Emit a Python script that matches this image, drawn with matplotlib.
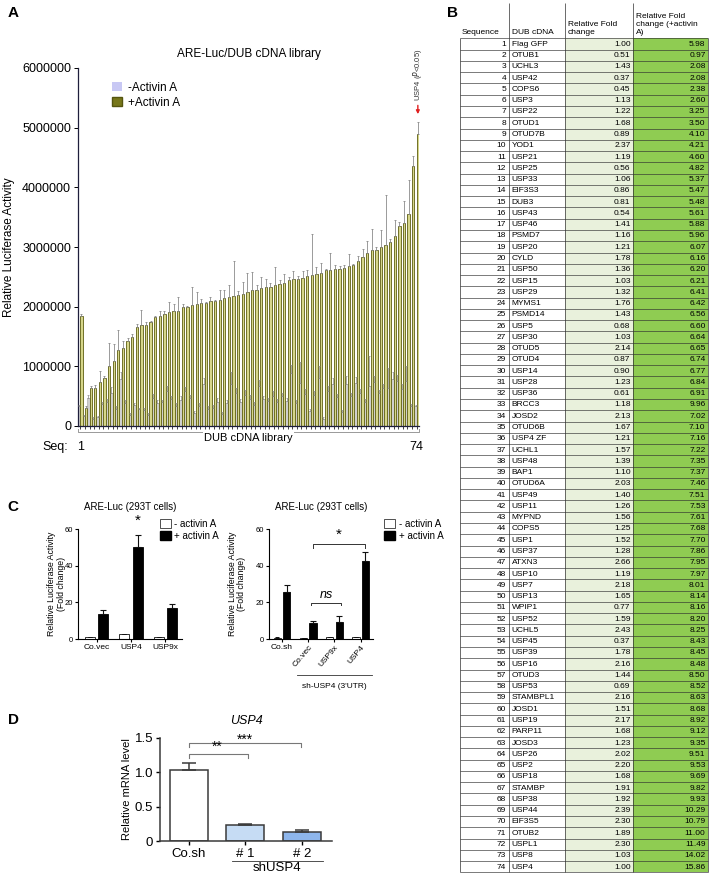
import matplotlib
matplotlib.use("Agg")
import matplotlib.pyplot as plt
import matplotlib.transforms as mtransforms
from matplotlib.patches import Patch, Rectangle

plt.rcParams['font.family'] = ['Liberation Sans', 'DejaVu Sans']

W, H = 711, 876

# ---------- A: ARE-Luc / DUB cDNA library (values in millions) ----------
lum_minus = [0.33, 0.17, 0.47, 0.12, 0.15, 0.37, 0.40, 0.55, 0.29, 0.78,
             0.39, 0.18, 0.35, 0.28, 0.27, 0.18, 0.47, 0.38, 0.40, 0.59,
             0.45, 0.34, 0.44, 0.58, 0.47, 0.22, 0.34, 0.71, 0.29, 0.30,
             0.41, 0.20, 0.39, 0.70, 0.55, 0.40, 0.52, 0.46, 0.36, 0.67,
             0.46, 0.42, 0.51, 0.41, 0.50, 0.42, 0.88, 0.39, 0.72, 0.54,
             0.25, 0.52, 0.80, 0.12, 0.59, 0.71, 0.48, 0.23, 0.71, 0.50,
             0.72, 0.55, 0.41, 0.67, 0.73, 0.55, 0.63, 0.63, 0.79, 0.76,
             0.62, 0.76, 0.34, 0.33]
lum_minus_err = [0.02, 0.02, 0.05, 0.03, 0.02, 0.03, 0.05, 0.10, 0.04, 0.12,
                 0.05, 0.03, 0.04, 0.03, 0.04, 0.03, 0.06, 0.05, 0.04, 0.08,
                 0.05, 0.04, 0.06, 0.08, 0.05, 0.03, 0.04, 0.10, 0.04, 0.05,
                 0.06, 0.03, 0.05, 0.20, 0.08, 0.05, 0.09, 0.06, 0.05, 0.10,
                 0.05, 0.05, 0.07, 0.05, 0.06, 0.05, 0.15, 0.05, 0.35, 0.08,
                 0.04, 0.07, 0.20, 0.03, 0.08, 0.10, 0.06, 0.04, 0.12, 0.06,
                 0.10, 0.07, 0.05, 0.50, 0.10, 0.06, 0.08, 0.35, 0.12, 0.10,
                 0.08, 0.25, 0.03, 0.03]
lum_plus = [1.85, 0.30, 0.645, 0.645, 0.74, 0.81, 1.01, 1.085, 1.27, 1.305,
            1.43, 1.49, 1.665, 1.70, 1.70, 1.74, 1.82, 1.85, 1.88, 1.91,
            1.92, 1.925, 1.99, 1.99, 2.03, 2.05, 2.06, 2.06, 2.09, 2.10,
            2.12, 2.14, 2.16, 2.18, 2.20, 2.22, 2.24, 2.28, 2.285, 2.31,
            2.33, 2.33, 2.36, 2.38, 2.39, 2.44, 2.46, 2.47, 2.48, 2.52,
            2.53, 2.54, 2.56, 2.61, 2.62, 2.63, 2.635, 2.64, 2.675, 2.69,
            2.765, 2.83, 2.90, 2.95, 2.95, 3.00, 3.04, 3.08, 3.19, 3.345,
            3.41, 3.56, 4.35, 4.90]
lum_plus_err = [0.03, 0.04, 0.02, 0.05, 0.19, 0.03, 0.38, 0.29, 0.34, 0.12,
                0.05, 0.05, 0.04, 0.25, 0.04, 0.02, 0.02, 0.08, 0.04, 0.16,
                0.12, 0.24, 0.06, 0.02, 0.30, 0.19, 0.07, 0.02, 0.08, 0.02,
                0.16, 0.14, 0.21, 0.58, 0.06, 0.20, 0.33, 0.30, 0.07, 0.18,
                0.13, 0.06, 0.31, 0.06, 0.16, 0.06, 0.14, 0.05, 0.12, 0.10,
                0.69, 0.13, 0.18, 0.02, 0.28, 0.06, 0.05, 0.05, 0.20, 0.02,
                0.08, 0.14, 0.20, 0.36, 0.05, 0.29, 0.83, 0.05, 0.27, 0.08,
                0.36, 0.56, 0.18, 0.20]
a_ticks = [0, 1, 2, 3, 4, 5, 6]
a_ticklabels = ["0", "1000000", "2000000", "3000000", "4000000", "5000000", "6000000"]

# ---------- B: table ----------
dub_names = ["Flag GFP", "OTUB1", "UCHL3", "USP42", "COPS6", "USP3", "USP22", "OTUD1", "OTUD7B", "YOD1",
             "USP21", "USP25", "USP33", "EIF3S3", "DUB3", "USP43", "USP46", "PSMD7", "USP20", "CYLD",
             "USP50", "USP15", "USP29", "MYMS1", "PSMD14", "USP5", "USP30", "OTUD5", "OTUD4", "USP14",
             "USP28", "USP36", "BRCC3", "JOSD2", "OTUD6B", "USP4 ZF", "UCHL1", "USP48", "BAP1", "OTUD6A",
             "USP49", "USP11", "MYPND", "COPS5", "USP1", "USP37", "ATXN3", "USP10", "USP7", "USP13",
             "WPIP1", "USP52", "UCHL5", "USP45", "USP39", "USP16", "OTUD3", "USP53", "STAMBPL1", "JOSD1",
             "USP19", "PARP11", "JOSD3", "USP26", "USP2", "USP18", "STAMBP", "USP38", "USP44", "EIF3S5",
             "OTUB2", "USPL1", "USP8", "USP4"]
fold_minus = [1.00, 0.51, 1.43, 0.37, 0.45, 1.13, 1.22, 1.68, 0.89, 2.37,
              1.19, 0.56, 1.06, 0.86, 0.81, 0.54, 1.41, 1.16, 1.21, 1.78,
              1.36, 1.03, 1.32, 1.76, 1.43, 0.68, 1.03, 2.14, 0.87, 0.90,
              1.23, 0.61, 1.18, 2.13, 1.67, 1.21, 1.57, 1.39, 1.10, 2.03,
              1.40, 1.26, 1.56, 1.25, 1.52, 1.28, 2.66, 1.19, 2.18, 1.65,
              0.77, 1.59, 2.43, 0.37, 1.78, 2.16, 1.44, 0.69, 2.16, 1.51,
              2.17, 1.68, 1.23, 2.02, 2.20, 1.68, 1.91, 1.92, 2.39, 2.30,
              1.89, 2.30, 1.03, 1.00]
fold_plus = [5.98, 0.97, 2.08, 2.08, 2.38, 2.60, 3.25, 3.50, 4.10, 4.21,
             4.60, 4.82, 5.37, 5.47, 5.48, 5.61, 5.88, 5.96, 6.07, 6.16,
             6.20, 6.21, 6.41, 6.42, 6.56, 6.60, 6.64, 6.65, 6.74, 6.77,
             6.84, 6.91, 9.96, 7.02, 7.10, 7.16, 7.22, 7.35, 7.37, 7.46,
             7.51, 7.53, 7.61, 7.68, 7.70, 7.86, 7.95, 7.97, 8.01, 8.14,
             8.16, 8.20, 8.25, 8.43, 8.45, 8.48, 8.50, 8.52, 8.63, 8.68,
             8.92, 9.12, 9.35, 9.51, 9.53, 9.69, 9.82, 9.93, 10.29, 10.79,
             11.00, 11.49, 14.02, 15.86]

# ---------- C: ARE-Luc in 293T ----------
c1_groups = ["Co.vec", "USP4", "USP9x"]
c1_minus = [1.0, 2.5, 1.0]
c1_minus_err = [0.3, 0.4, 0.3]
c1_plus = [13.5, 50.0, 17.0]
c1_plus_err = [2.5, 7.0, 2.2]

c2_groups = ["Co.sh", "Co.vec", "USP9x", "USP4"]
c2_minus = [0.8, 0.5, 0.9, 1.0]
c2_minus_err = [0.2, 0.2, 0.2, 0.2]
c2_plus = [25.8, 8.6, 9.1, 42.7]
c2_plus_err = [3.5, 1.1, 3.2, 4.9]

# ---------- D: USP4 mRNA ----------
d_groups = ["Co.sh", "# 1", "# 2"]
d_vals = [1.035, 0.23, 0.135]
d_err = [0.095, 0.02, 0.02]
d_colors = ["white", "#c6dcf4", "#8eb6ec"]


def px_axes(x0, y_top, x1, y_bot):
    return [x0 / W, 1 - y_bot / H, (x1 - x0) / W, (y_bot - y_top) / H]


fig = plt.figure(figsize=(W / 100, H / 100), dpi=100)

# overlay in pixel coordinates for the table and panel letters
ov = fig.add_axes([0, 0, 1, 1])
ov.set_xlim(0, W)
ov.set_ylim(H, 0)
ov.axis("off")
for letter, (lx, ly) in {"A": (8, 13), "B": (447, 13), "C": (7, 507), "D": (8, 720)}.items():
    ov.text(lx, ly, letter, fontsize=11, fontweight="bold", ha="left", va="center")

# ---- table B ----
col_x = [460, 509, 565, 633, 708]
row_top = 38.4
row_h = 11.27
n = len(dub_names)
light_green = "#e9f1dc"
green = "#8fcc52"
for i in range(n):
    y0 = row_top + i * row_h
    yc = y0 + row_h / 2 + 0.3
    ov.add_patch(Rectangle((col_x[2], y0), col_x[3] - col_x[2], row_h, fc=light_green, ec="none"))
    ov.add_patch(Rectangle((col_x[3], y0), col_x[4] - col_x[3], row_h, fc=green, ec="none"))
    ov.text(col_x[1] - 3, yc, str(i + 1), ha="right", va="center", fontsize=6)
    ov.text(col_x[1] + 2.5, yc, dub_names[i], ha="left", va="center", fontsize=6)
    ov.text(col_x[3] - 2.5, yc, f"{fold_minus[i]:.2f}", ha="right", va="center", fontsize=6)
    ov.text(col_x[4] - 2.5, yc, f"{fold_plus[i]:.2f}", ha="right", va="center", fontsize=6)
row_lines = [row_top + k * row_h for k in range(n + 1)]
ov.hlines(row_lines, col_x[0], col_x[4], color="#303030", lw=0.45)
ov.vlines(col_x, row_top, row_lines[-1], color="#303030", lw=0.5)
ov.vlines(col_x[1:4], 3, row_top, color="#303030", lw=0.5)
hdr_y = row_top - 2
ov.text(col_x[0] + 2, hdr_y, "Sequence", ha="left", va="bottom", fontsize=6)
ov.text(col_x[1] + 2.5, hdr_y, "DUB cDNA", ha="left", va="bottom", fontsize=6)
ov.text(col_x[2] + 2.5, hdr_y, "Relative Fold\nchange", ha="left", va="bottom", fontsize=6, linespacing=1.25)
ov.text(col_x[3] + 2.5, hdr_y, "Relative Fold\nchange (+activin\nA)", ha="left", va="bottom",
        fontsize=6, linespacing=1.25)

# ---- panel A ----
axA = fig.add_axes(px_axes(78, 68, 419, 426))
seq = list(range(1, n + 1))
bw = 0.5
xm = [s - 0.25 for s in seq]
xp = [s + 0.25 for s in seq]
axA.bar(xm, lum_minus, width=bw, color="#cfcfcf", edgecolor="#a0a0a0", linewidth=0.4, zorder=2)
axA.bar(xp, lum_plus, width=bw, color="#d6d68a", edgecolor="#5e5e10", linewidth=0.6, zorder=2)
axA.errorbar(xm, lum_minus, yerr=[[0] * n, lum_minus_err], fmt="none", ecolor="#8a8a8a",
             elinewidth=0.5, capsize=0.8, capthick=0.5, zorder=3)
axA.errorbar(xp, lum_plus, yerr=[[0] * n, lum_plus_err], fmt="none", ecolor="#8a8a8a",
             elinewidth=0.6, capsize=0.9, capthick=0.6, zorder=3)
axA.set_xlim(0.5, n + 0.5)
axA.set_ylim(0, 6)
axA.set_yticks(a_ticks)
axA.set_yticklabels(a_ticklabels, fontsize=9)
axA.set_xticks(seq)
axA.set_xticklabels([])
axA.tick_params(axis="x", length=2, width=0.6, color="#222")
axA.tick_params(axis="y", length=3, width=0.7, pad=2)
for s in ["top", "right"]:
    axA.spines[s].set_visible(False)
for s in ["left", "bottom"]:
    axA.spines[s].set_linewidth(0.9)
    axA.spines[s].set_color("#1e1e3c")
axA.set_title("ARE-Luc/DUB cDNA library", fontsize=8.5, pad=8)
axA.set_ylabel("Relative Luciferase Activity", fontsize=8.5)
axA.yaxis.set_label_coords(-0.185, 0.5)
axA.legend(handles=[Patch(fc="#c8c8f4", ec="none"), Patch(fc="#77771a", ec="#55550f")],
           labels=["-Activin A", "+Activin A"], loc="upper left", bbox_to_anchor=(0.085, 0.975),
           frameon=False, fontsize=8.5, handlelength=0.9, handleheight=0.9, handletextpad=0.5,
           labelspacing=0.25, borderaxespad=0)
trA = mtransforms.blended_transform_factory(axA.transData, axA.transAxes)
axA.plot([0.5, 0.5, n + 0.5, n + 0.5], [-0.008, -0.017, -0.017, -0.008], transform=trA,
         color="#999", lw=0.7, clip_on=False)
axA.text((n + 1) / 2, -0.034, "DUB cDNA library", transform=trA, ha="center", va="center",
         fontsize=8, bbox=dict(fc="white", ec="none", pad=0.6))
axA.text(1, -0.06, "1", transform=trA, ha="center", va="center", fontsize=9)
axA.text(n, -0.06, str(n), transform=trA, ha="center", va="center", fontsize=9)
axA.text(-0.067, -0.058, "Seq:", transform=axA.transAxes, ha="center", va="center", fontsize=9)
axA.annotate("", xy=(n + 0.25, 5.18), xytext=(n + 0.25, 5.42),
             arrowprops=dict(arrowstyle="-|>", color="#e02020", lw=1.0, mutation_scale=5))
axA.text(n + 0.25, 5.45, r"USP4 ($\it{P}$<0.05)", rotation=90, ha="center", va="bottom", fontsize=5.5,
         color="#333", clip_on=False)

# ---- panel C ----
def c_panel(rect, groups, vm, vm_err, vp, vp_err, bwid, off, ylab_x):
    ax = fig.add_axes(rect)
    xs = list(range(len(groups)))
    xm_ = [x - off for x in xs]
    xp_ = [x + off for x in xs]
    ax.bar(xm_, vm, width=bwid, color="white", edgecolor="#111", linewidth=0.6, zorder=2)
    ax.bar(xp_, vp, width=bwid, color="black", edgecolor="black", linewidth=0.6, zorder=2)
    ax.errorbar(xm_, vm, yerr=[[0] * len(xs), vm_err], fmt="none", ecolor="#111",
                elinewidth=0.7, capsize=1.5, capthick=0.7)
    ax.errorbar(xp_, vp, yerr=[[0] * len(xs), vp_err], fmt="none", ecolor="#111",
                elinewidth=0.8, capsize=2.0, capthick=0.8)
    ax.set_ylim(0, 60)
    ax.set_yticks([0, 20, 40, 60])
    ax.set_xticks(xs)
    ax.tick_params(axis="y", labelsize=5.5, length=2.5, width=0.8, pad=1)
    ax.tick_params(axis="x", labelsize=6, length=2, width=0.8, pad=1.5)
    for s in ["top", "right"]:
        ax.spines[s].set_visible(False)
    for s in ["left", "bottom"]:
        ax.spines[s].set_linewidth(0.8)
    ax.set_title("ARE-Luc (293T cells)", fontsize=7, pad=14)
    ax.set_ylabel("Relative Luciferase Activity\n(Fold change)", fontsize=6.3, linespacing=1.05)
    ax.yaxis.set_label_coords(ylab_x, 0.5)
    return ax


axC1 = c_panel(px_axes(78, 529, 182, 639), c1_groups, c1_minus, c1_minus_err, c1_plus, c1_plus_err,
               0.29, 0.19, -0.12)
axC1.set_xlim(-0.54, 2.48)
axC1.set_xticklabels(c1_groups)
axC1.text(1 + 0.19, 60.5, "*", ha="center", va="bottom", fontsize=11)
c_handles = [Patch(fc="white", ec="#333", lw=0.6), Patch(fc="black", ec="black")]
axC1.legend(handles=c_handles, labels=["- activin A", "+ activin A"], loc="upper left",
            bbox_to_anchor=(0.75, 1.13), frameon=False, fontsize=7, handlelength=1.1,
            handleheight=1.1, handletextpad=0.4, labelspacing=0.2, borderaxespad=0)

axC2 = c_panel(px_axes(269, 529, 373, 639), c2_groups, c2_minus, c2_minus_err, c2_plus, c2_plus_err,
               0.27, 0.18, -0.22)
axC2.set_xlim(-0.5, 3.47)
axC2.set_xticklabels(c2_groups)
for lbl in axC2.get_xticklabels()[1:]:
    lbl.set_rotation(50)
    lbl.set_ha("right")
    lbl.set_rotation_mode("anchor")
axC2.legend(handles=c_handles, labels=["- activin A", "+ activin A"], loc="upper left",
            bbox_to_anchor=(1.07, 1.13), frameon=False, fontsize=7, handlelength=1.1,
            handleheight=1.1, handletextpad=0.4, labelspacing=0.2, borderaxespad=0)
# significance brackets
axC2.plot([1.18, 1.18, 3.18, 3.18], [49.5, 51.8, 51.8, 49.5], color="#333", lw=0.7, clip_on=False)
axC2.text(2.18, 53, "*", ha="center", va="bottom", fontsize=11)
axC2.plot([1.1, 1.1, 2.25, 2.25], [18.5, 19.8, 19.8, 18.5], color="#333", lw=0.7, clip_on=False)
axC2.text(1.68, 21, "ns", ha="center", va="bottom", fontsize=9, style="italic")
trC2 = mtransforms.blended_transform_factory(axC2.transData, axC2.transAxes)
axC2.plot([0.57, 3.44], [-0.33, -0.33], transform=trC2, color="#333", lw=0.6, clip_on=False)
axC2.text(2.0, -0.43, "sh-USP4 (3'UTR)", transform=trC2, ha="center", va="center", fontsize=6)

# ---- panel D ----
axD = fig.add_axes(px_axes(160, 738, 332, 841))
xd = list(range(len(d_groups)))
axD.bar(xd, d_vals, width=0.67, color=d_colors, edgecolor="#3a3a3a", linewidth=1.1, zorder=2)
axD.errorbar(xd, d_vals, yerr=[[0] * len(xd), d_err], fmt="none", ecolor="#3a3a3a",
             elinewidth=1.1, capsize=5, capthick=1.1)
axD.set_xlim(-0.51, 2.53)
axD.set_ylim(0, 1.5)
axD.set_yticks([0, 0.5, 1.0, 1.5])
axD.set_yticklabels(["0", "0.5", "1.0", "1.5"])
axD.set_xticks(xd)
axD.set_xticklabels(d_groups)
axD.tick_params(axis="both", labelsize=9.5, length=3, width=1.0, pad=2)
for s in ["top", "right"]:
    axD.spines[s].set_visible(False)
for s in ["left", "bottom"]:
    axD.spines[s].set_linewidth(1.1)
    axD.spines[s].set_color("#3a3a3a")
axD.set_title("USP4", fontsize=9, style="italic", pad=10)
axD.set_ylabel("Relative mRNA level", fontsize=8)
axD.yaxis.set_label_coords(-0.165, 0.5)
axD.plot([0, 0, 1.98, 1.98], [1.37, 1.42, 1.42, 1.37], color="#777", lw=0.8, clip_on=False)
axD.text(0.99, 1.47, "***", ha="center", va="center", fontsize=10)
axD.plot([0, 0, 1.04, 1.04], [1.21, 1.265, 1.265, 1.21], color="#777", lw=0.8, clip_on=False)
axD.text(0.5, 1.27, "**", ha="center", va="bottom", fontsize=10)
trD = mtransforms.blended_transform_factory(axD.transData, axD.transAxes)
axD.plot([0.76, 2.37], [-0.19, -0.19], transform=trD, color="#333", lw=0.6, clip_on=False)
axD.text(1.55, -0.265, "shUSP4", transform=trD, ha="center", va="center", fontsize=9.5)

fig.savefig("out.png", dpi=100)
